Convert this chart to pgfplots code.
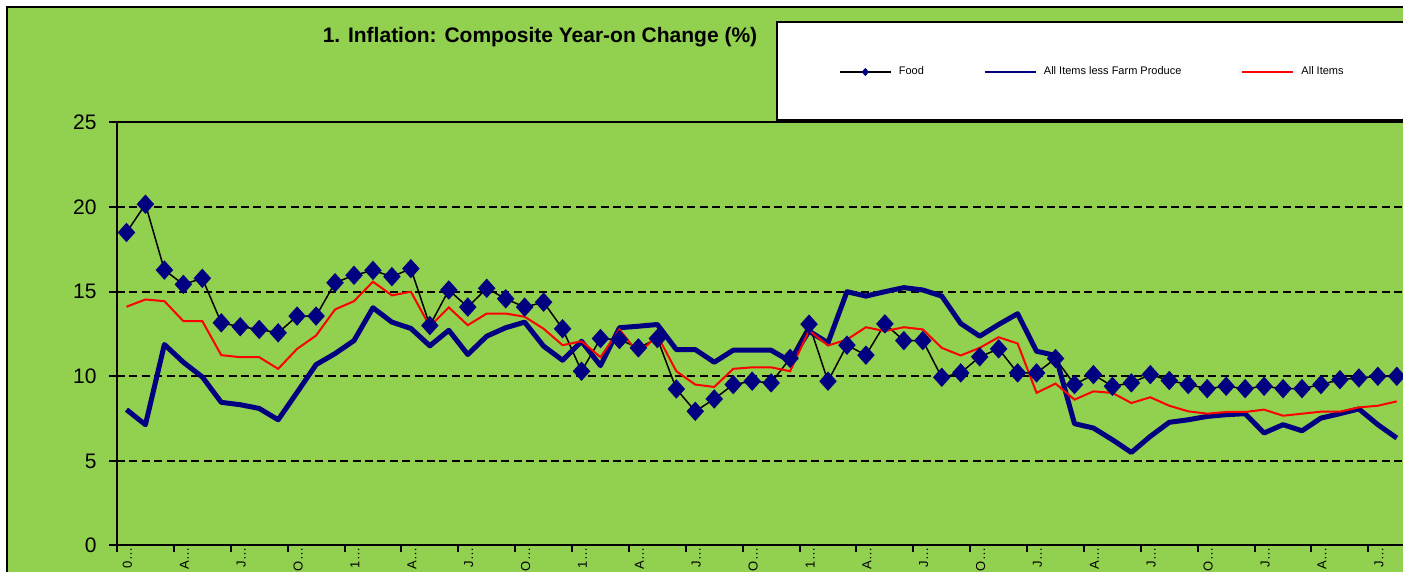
\documentclass[border=0pt]{standalone}
\usepackage{fontspec}
\setmainfont{Liberation Sans}
\usepackage{pgfplots}
\pgfplotsset{compat=1.18}
\definecolor{bggreen}{RGB}{146,208,80}
\definecolor{navyb}{RGB}{0,0,128}
\begin{document}
\begin{tikzpicture}
\useasboundingbox (0,0) rectangle (701.5pt,286pt);
\fill[white] (0,0) rectangle (701.5pt,286pt);
\draw[line width=1pt, fill=bggreen] (3.5pt,-10pt) rectangle (720pt,282.5pt);
\draw[line width=1pt, fill=white] (388.5pt,226pt) rectangle (720pt,275pt);
\node[anchor=base, font=\fontsize{10.5}{12}\selectfont\bfseries, inner sep=0pt] at (270pt,264.5pt) {1. Inflation: Composite Year-on Change (\%)};
\begin{axis}[
  at={(58.5pt,13.25pt)}, anchor=south west, scale only axis,
  width=649.38pt, height=211.5pt,
  xmin=-0.5, xmax=68, ymin=0, ymax=25,
  axis line style={line width=1pt},
  ytick={0,5,...,25},
  ymajorgrids,
  major grid style={black, line width=0.9pt, dash pattern=on 4pt off 2.2pt},
  xtick={0,3,...,66},
  xticklabels={0…,A…,J…,O…,1…,A…,J…,O…,1…,A…,J…,O…,1…,A…,J…,O…,J…,A…,J…,O…,J…,A…,J…},
  minor xtick={-0.5,2.5,...,65.5},
  tick pos=left,
  tick align=outside,
  major tick length=4pt,
  minor tick length=3.5pt,
  tick style={black, line width=1pt},
  every major x tick/.append style={draw=none},
  /pgf/number format/assume math mode=true,
  yticklabel style={font=\fontsize{10.5}{12}\selectfont, inner sep=0pt, anchor=east, xshift=-6pt},
  xticklabel style={rotate=90, anchor=east, font=\fontsize{6.5}{7}\selectfont, inner sep=0pt, xshift=3pt, yshift=-0.5pt},
  legend columns=3,
  legend style={at={(0.5555,1.1194)}, anchor=west, draw=none, fill=none, inner sep=0pt,
    font=\fontsize{5.5}{6}\selectfont, nodes={inner sep=0pt},
    /tikz/every odd column/.append style={column sep=3.5pt},
    /tikz/every even column/.append style={column sep=30pt}},
  legend image code/.code={\draw[mark repeat=2,mark phase=2,#1] plot coordinates {(0pt,0pt) (12.75pt,0pt) (25.5pt,0pt)};},
  legend image post style={line width=1pt, mark size=1.3pt},
]
\addplot[black, line width=0.75pt, mark=diamond*, mark size=4.3pt,
  mark options={draw=navyb, fill=navyb, solid, xscale=1.2}] coordinates {
(0,18.5)(1,20.17)(2,16.28)(3,15.43)(4,15.79)(5,13.16)(6,12.93)(7,12.77)(8,12.57)(9,13.56)
(10,13.56)(11,15.53)(12,15.97)(13,16.26)(14,15.89)(15,16.36)(16,13.0)(17,15.1)(18,14.09)(19,15.2)
(20,14.58)(21,14.09)(22,14.38)(23,12.81)(24,10.30)(25,12.23)(26,12.17)(27,11.68)(28,12.23)(29,9.25)
(30,7.93)(31,8.66)(32,9.51)(33,9.71)(34,9.61)(35,11.06)(36,13.08)(37,9.71)(38,11.84)(39,11.25)
(40,13.1)(41,12.11)(42,12.11)(43,9.94)(44,10.20)(45,11.15)(46,11.62)(47,10.20)(48,10.20)(49,11.05)
(50,9.51)(51,10.10)(52,9.41)(53,9.61)(54,10.10)(55,9.75)(56,9.51)(57,9.27)(58,9.41)(59,9.27)
(60,9.41)(61,9.27)(62,9.27)(63,9.51)(64,9.80)(65,9.90)(66,10.0)(67,10.0)};
\addlegendentry{Food}
\addplot[navyb, line width=2.5pt, line join=round, mark=none] coordinates {
(0,8.03)(1,7.14)(2,11.88)(3,10.83)(4,9.96)(5,8.46)(6,8.32)(7,8.10)(8,7.43)(9,9.05)
(10,10.69)(11,11.34)(12,12.11)(13,14.05)(14,13.2)(15,12.83)(16,11.8)(17,12.72)(18,11.29)(19,12.37)
(20,12.87)(21,13.2)(22,11.78)(23,10.95)(24,12.07)(25,10.63)(26,12.87)(27,12.96)(28,13.06)(29,11.58)
(30,11.58)(31,10.83)(32,11.54)(33,11.54)(34,11.54)(35,10.89)(36,12.67)(37,11.98)(38,15.0)(39,14.74)
(40,15.0)(41,15.24)(42,15.1)(43,14.74)(44,13.12)(45,12.37)(46,13.06)(47,13.7)(48,11.48)(49,11.23)
(50,7.2)(51,6.94)(52,6.25)(53,5.50)(54,6.45)(55,7.28)(56,7.43)(57,7.63)(58,7.73)(59,7.79)
(60,6.65)(61,7.14)(62,6.78)(63,7.53)(64,7.79)(65,8.07)(66,7.14)(67,6.35)};
\addlegendentry{All Items less Farm Produce}
\addplot[red, line width=1pt, mark=none] coordinates {
(0,14.11)(1,14.54)(2,14.44)(3,13.26)(4,13.26)(5,11.25)(6,11.13)(7,11.13)(8,10.44)(9,11.62)
(10,12.41)(11,13.95)(12,14.44)(13,15.59)(14,14.78)(15,15.0)(16,12.95)(17,14.07)(18,13.02)(19,13.71)
(20,13.71)(21,13.52)(22,12.81)(23,11.84)(24,12.07)(25,11.13)(26,12.77)(27,11.35)(28,12.41)(29,10.30)
(30,9.51)(31,9.37)(32,10.44)(33,10.53)(34,10.53)(35,10.30)(36,12.71)(37,11.82)(38,12.17)(39,12.9)
(40,12.67)(41,12.9)(42,12.77)(43,11.68)(44,11.23)(45,11.68)(46,12.31)(47,11.94)(48,9.02)(49,9.57)
(50,8.62)(51,9.11)(52,9.02)(53,8.42)(54,8.76)(55,8.26)(56,7.93)(57,7.79)(58,7.89)(59,7.89)
(60,8.03)(61,7.67)(62,7.79)(63,7.91)(64,7.91)(65,8.16)(66,8.26)(67,8.52)};
\addlegendentry{All Items}
\end{axis}
\end{tikzpicture}
\end{document}
